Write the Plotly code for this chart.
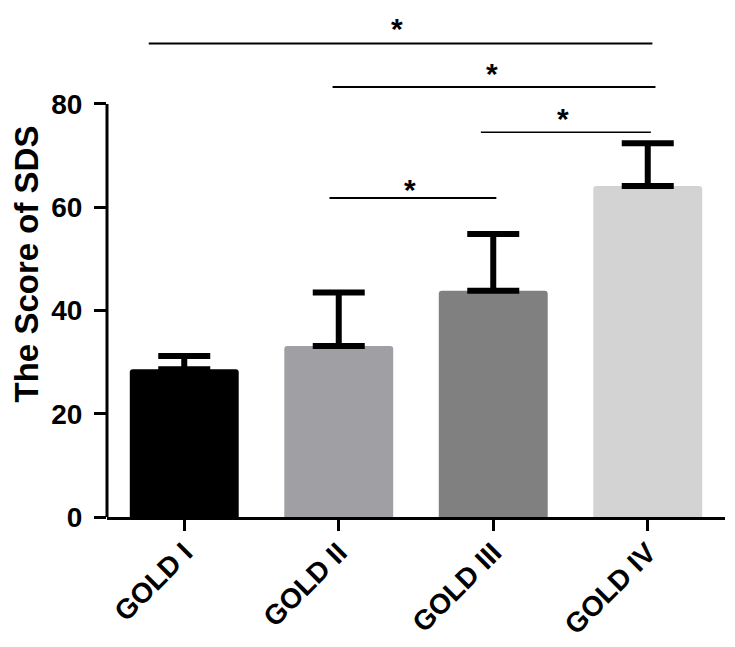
import plotly.graph_objects as go

categories = ["GOLD I", "GOLD II", "GOLD III", "GOLD IV"]
means = [28.6, 33.1, 43.8, 64.1]
sd_upper = [2.6, 10.4, 11.0, 8.3]
bar_colors = ["#000000", "#A0A0A4", "#808080", "#D3D3D3"]

y_ticks = [0, 20, 40, 60, 80]

# significance brackets (category-index x, data y)
sig_x0 = [-0.23, 0.96, 1.92, 0.94]
sig_x1 = [3.03, 3.05, 3.02, 2.02]
sig_y = [91.7, 83.3, 74.5, 61.8]
sig_width = [2, 2, 1.5, 2]
star_x = [1.38, 1.99, 2.45, 1.46]
star_y = [94.6, 85.8, 77.1, 63.5]
star_text = ["*", "*", "*", "*"]

FONT = "Liberation Sans, Arial, sans-serif"

fig = go.Figure()
fig.add_trace(go.Bar(
    x=categories,
    y=means,
    marker=dict(color=bar_colors, line=dict(width=0), cornerradius=3),
    error_y=dict(type="data", array=sd_upper, arrayminus=[0] * len(sd_upper),
                 symmetric=False, color="#000000", thickness=6, width=26),
    hoverinfo="skip",
))

shapes = []
# custom y-axis line from 0 to 80
shapes.append(dict(type="line", xref="paper", yref="y", x0=0, x1=0,
                   y0=y_ticks[0], y1=y_ticks[-1],
                   line=dict(color="black", width=3)))
for x0, x1, y, w in zip(sig_x0, sig_x1, sig_y, sig_width):
    shapes.append(dict(type="line", xref="x", yref="y", x0=x0, x1=x1, y0=y, y1=y,
                       line=dict(color="black", width=w)))

annotations = []
for x, y, t in zip(star_x, star_y, star_text):
    annotations.append(dict(x=x, y=y, xref="x", yref="y", text=t, showarrow=False,
                            font=dict(family=FONT, size=30, color="black", weight="bold"),
                            xanchor="center", yanchor="middle", borderpad=0))

# page body has an 8px default margin, so the figure is sized to fit inside it
fig.update_layout(
    width=719, height=631,
    margin=dict(l=99, r=2, t=3, b=122),
    plot_bgcolor="white", paper_bgcolor="white",
    showlegend=False,
    bargap=0.295,
    shapes=shapes,
    annotations=annotations,
    font=dict(family=FONT, color="black"),
)
fig.update_xaxes(
    range=[-0.5, 3.5],
    automargin=False,
    showline=True, linecolor="black", linewidth=3,
    ticks="outside", ticklen=11, tickwidth=3, tickcolor="black",
    tickangle=-45,
    tickfont=dict(family=FONT, size=28, color="black", weight="bold"),
    showgrid=False, zeroline=False,
    ticklabelstandoff=-6,
)
fig.update_yaxes(
    range=[0, 98],
    automargin=False,
    tickvals=y_ticks,
    ticktext=[str(v) for v in y_ticks],
    showline=False,
    ticks="outside", ticklen=12, tickwidth=3, tickcolor="black",
    tickfont=dict(family=FONT, size=28, color="black", weight="bold"),
    showgrid=False, zeroline=False,
    ticklabelstandoff=6,
    title=dict(text="The Score of SDS", font=dict(family=FONT, size=33, color="black", weight="bold"),
               standoff=18),
)

fig.write_html("out.html")
